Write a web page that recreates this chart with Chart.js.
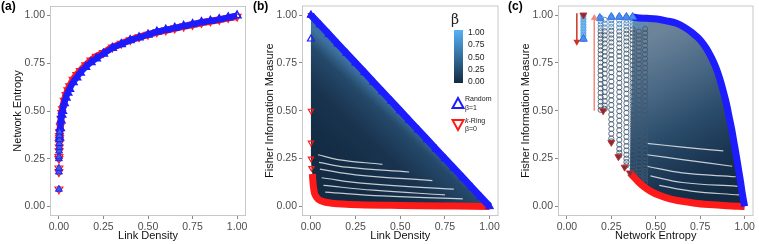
<!DOCTYPE html>
<html>
<head>
<meta charset="utf-8">
<script src="https://cdn.jsdelivr.net/npm/chart.js@4.4.1/dist/chart.umd.min.js"></script>
<style>
  html, body { margin: 0; padding: 0; background: #fff; }
  #wrap { position: relative; width: 759px; height: 244px; overflow: hidden; font-family: 'Liberation Sans', Arial, sans-serif; }
  #wrap canvas { position: absolute; top: 0; }
  .tag { position: absolute; top: -1px; font-weight: bold; font-size: 12px; line-height: 14px; color: #000; }
  .lg { position: absolute; font-size: 8.5px; line-height: 10px; color: #222; white-space: nowrap; }
  .lk { font-size: 7px; line-height: 9px; }
</style>
</head>
<body>
<div id="wrap">
  <canvas id="ca" width="252" height="244" style="left:0px"></canvas>
  <canvas id="cb" width="252" height="244" style="left:252px"></canvas>
  <canvas id="cc" width="251" height="244" style="left:508px"></canvas>
  <div class="tag" style="left:1px">(a)</div>
  <div class="tag" style="left:253px">(b)</div>
  <div class="tag" style="left:508px">(c)</div>

  <!-- legend of panel (b) -->
  <div class="lg" style="left:451px;top:11px;font:14px 'DejaVu Serif',serif;line-height:16px">β</div>
  <div style="position:absolute;left:454px;top:30px;width:9px;height:53px;background:linear-gradient(#56B1F7,#132B43)"></div>
  <div class="lg" style="left:468px;top:27px">1.00</div>
  <div class="lg" style="left:468px;top:39px">0.75</div>
  <div class="lg" style="left:468px;top:51.5px">0.50</div>
  <div class="lg" style="left:468px;top:64px">0.25</div>
  <div class="lg" style="left:468px;top:76px">0.00</div>
  <svg style="position:absolute;left:451px;top:96px" width="14" height="14"><polygon points="7,2 12.5,12 1.5,12" fill="none" stroke="#1c1cff" stroke-width="2"/></svg>
  <div class="lg lk" style="left:465px;top:94px">Random</div>
  <div class="lg lk" style="left:465px;top:102.5px">β=1</div>
  <svg style="position:absolute;left:451px;top:118px" width="14" height="14"><polygon points="1.5,2 12.5,2 7,12" fill="none" stroke="#ff1a1a" stroke-width="2"/></svg>
  <div class="lg lk" style="left:465px;top:115.5px"><i>k</i>-Ring</div>
  <div class="lg lk" style="left:465px;top:124px">β=0</div>
</div>
<script>
// ---------- (a) network entropy vs link density ----------
const densA = [0.004, 0.008, 0.012, 0.016, 0.02, 0.03, 0.04, 0.05, 0.06, 0.08, 0.10, 0.12, 0.15, 0.18, 0.21, 0.25, 0.30, 0.35, 0.40, 0.45, 0.50, 0.55, 0.60, 0.65, 0.70, 0.75, 0.80, 0.85, 0.90, 0.95, 1.00];
const entRandomA = [0.36, 0.41, 0.45, 0.48, 0.50, 0.54, 0.57, 0.595, 0.615, 0.65, 0.675, 0.70, 0.73, 0.755, 0.775, 0.80, 0.83, 0.85, 0.87, 0.885, 0.90, 0.915, 0.925, 0.935, 0.945, 0.955, 0.965, 0.972, 0.98, 0.99, 1.00];
const entRingA = [0.36, 0.42, 0.46, 0.49, 0.51, 0.555, 0.585, 0.61, 0.63, 0.665, 0.69, 0.71, 0.74, 0.765, 0.785, 0.805, 0.833, 0.853, 0.872, 0.887, 0.90, 0.913, 0.923, 0.933, 0.943, 0.952, 0.962, 0.97, 0.978, 0.988, 0.995];
const lowDensA = [0, 0, 0, 0, 0, 0.001, 0.002, 0.002, 0.003, 0.003, 0.004];
const lowEntA = [0.09, 0.18, 0.20, 0.25, 0.26, 0.29, 0.31, 0.33, 0.35, 0.37, 0.39];

// ---------- (b) Fisher information vs link density ----------
const densRandomB = [0, 0.05, 0.10, 0.15, 0.20, 0.25, 0.30, 0.35, 0.40, 0.45, 0.50, 0.55, 0.60, 0.65, 0.70, 0.75, 0.80, 0.85, 0.90, 0.95, 1.00];
const fisherRandomB = [1.00, 0.95, 0.90, 0.85, 0.80, 0.75, 0.70, 0.65, 0.60, 0.55, 0.50, 0.45, 0.40, 0.35, 0.30, 0.25, 0.20, 0.15, 0.10, 0.05, 0.00];
const outlierB = { x: 0.0, y: 0.875 };
const densRingStartB = [0.0, 0.0, 0.0, 0.0, 0.003];
const fisherRingStartB = [1.0, 0.5, 0.333, 0.25, 0.2];
const densRingB = [0.008, 0.012, 0.016, 0.02, 0.03, 0.045, 0.07, 0.10, 0.15, 0.20, 0.30, 0.45, 0.60, 0.80, 1.00];
const fisherRingB = [0.17, 0.12, 0.09, 0.07, 0.05, 0.035, 0.025, 0.019, 0.014, 0.011, 0.008, 0.006, 0.004, 0.002, 0.0];
const streaksB = [
  [[0.04, 0.27], [0.15, 0.245], [0.40, 0.22]],
  [[0.045, 0.23], [0.20, 0.205], [0.55, 0.18]],
  [[0.05, 0.195], [0.25, 0.165], [0.68, 0.135]],
  [[0.06, 0.15], [0.30, 0.12], [0.80, 0.09]],
  [[0.07, 0.11], [0.35, 0.085], [0.75, 0.06]],
  [[0.08, 0.075], [0.40, 0.055], [0.85, 0.04]]
];

// ---------- (c) Fisher information vs network entropy ----------
const entRandomDotsC = [0.093, 0.185, 0.25, 0.295, 0.335, 0.37];
const fisherRandomDotsC = [0.875, 0.985, 0.99, 0.99, 0.99, 0.99];
const entRandomC = [0.37, 0.395, 0.45, 0.506, 0.56, 0.617, 0.66, 0.709, 0.75, 0.783, 0.812, 0.839, 0.86, 0.879, 0.897, 0.913, 0.928, 0.941, 0.954, 0.966, 0.977, 0.986, 0.994, 1.0];
const fisherRandomC = [0.99, 0.986, 0.983, 0.979, 0.97, 0.957, 0.937, 0.905, 0.87, 0.828, 0.78, 0.725, 0.668, 0.605, 0.54, 0.468, 0.40, 0.33, 0.26, 0.192, 0.13, 0.072, 0.03, 0.0];
const entRingDotsC = [0.093, 0.204, 0.25, 0.29, 0.325, 0.355];
const fisherRingDotsC = [1.0, 0.5, 0.335, 0.26, 0.205, 0.175];
const entRingC = [0.355, 0.38, 0.40, 0.43, 0.47, 0.52, 0.58, 0.65, 0.72, 0.80, 0.90, 1.0];
const fisherRingC = [0.175, 0.15, 0.13, 0.105, 0.08, 0.058, 0.04, 0.027, 0.017, 0.01, 0.004, 0.0];
const columnsC = [
  { x: 0.093, y: [0.875, 0.89, 0.905, 0.92, 0.935, 0.95, 0.965, 0.98, 0.995] },
  { x: 0.19, y: [0.985, 0.968, 0.951, 0.933, 0.915, 0.896, 0.877, 0.857, 0.837, 0.816, 0.795, 0.774, 0.752, 0.73, 0.708, 0.686, 0.663, 0.64, 0.617, 0.594, 0.571, 0.548, 0.525, 0.505] },
  { x: 0.213, y: [0.975, 0.955, 0.935, 0.915, 0.894, 0.873, 0.852, 0.83, 0.808, 0.786, 0.763, 0.74, 0.717, 0.694, 0.67, 0.646, 0.622, 0.598, 0.574, 0.55, 0.527, 0.51] },
  { x: 0.25, y: [0.99, 0.973, 0.955, 0.937, 0.918, 0.898, 0.878, 0.857, 0.836, 0.814, 0.792, 0.77, 0.747, 0.724, 0.701, 0.677, 0.653, 0.629, 0.605, 0.58, 0.555, 0.53, 0.505, 0.48, 0.455, 0.43, 0.405, 0.38, 0.355, 0.34] },
  { x: 0.295, y: [0.99, 0.972, 0.953, 0.934, 0.914, 0.894, 0.873, 0.852, 0.83, 0.808, 0.786, 0.763, 0.74, 0.717, 0.694, 0.67, 0.646, 0.622, 0.598, 0.573, 0.548, 0.523, 0.498, 0.473, 0.448, 0.423, 0.398, 0.373, 0.348, 0.323, 0.30, 0.28, 0.265] },
  { x: 0.335, y: [0.99, 0.975, 0.958, 0.94, 0.921, 0.902, 0.882, 0.862, 0.841, 0.82, 0.798, 0.776, 0.754, 0.731, 0.708, 0.685, 0.661, 0.637, 0.613, 0.589, 0.564, 0.539, 0.514, 0.489, 0.464, 0.439, 0.414, 0.389, 0.364, 0.339, 0.315, 0.292, 0.27, 0.25, 0.232, 0.215] },
  { x: 0.37, y: [0.99, 0.976, 0.96, 0.943, 0.925, 0.906, 0.887, 0.867, 0.847, 0.826, 0.805, 0.783, 0.761, 0.739, 0.716, 0.693, 0.67, 0.646, 0.622, 0.598, 0.574, 0.55, 0.525, 0.50, 0.475, 0.45, 0.425, 0.40, 0.375, 0.35, 0.325, 0.30, 0.277, 0.255, 0.235, 0.215, 0.197, 0.18] },
  { x: 0.405, y: [0.985, 0.968, 0.95, 0.932, 0.913, 0.893, 0.873, 0.852, 0.831, 0.81, 0.788, 0.766, 0.744, 0.721, 0.698, 0.675, 0.651, 0.627, 0.603, 0.579, 0.555, 0.53, 0.505, 0.48, 0.455, 0.43, 0.405, 0.38, 0.355, 0.33, 0.306, 0.283, 0.261, 0.24, 0.22, 0.201, 0.183, 0.166, 0.15] },
  { x: 0.44, y: [0.985, 0.966, 0.947, 0.927, 0.906, 0.885, 0.863, 0.841, 0.818, 0.795, 0.772, 0.748, 0.724, 0.70, 0.675, 0.65, 0.625, 0.60, 0.575, 0.55, 0.525, 0.50, 0.475, 0.45, 0.425, 0.40, 0.375, 0.35, 0.326, 0.303, 0.281, 0.26, 0.24, 0.221, 0.203, 0.186, 0.17, 0.155, 0.14, 0.125] }
];
const streaksC = [
  [[0.45, 0.33], [0.65, 0.31], [0.88, 0.29]],
  [[0.45, 0.27], [0.65, 0.245], [0.93, 0.21]],
  [[0.45, 0.21], [0.65, 0.175], [0.95, 0.155]],
  [[0.47, 0.16], [0.65, 0.125], [0.96, 0.105]],
  [[0.52, 0.11], [0.70, 0.08], [0.97, 0.06]]
];
const arrowsC = [
  { x: [0.056, 0.056], y: [1.01, 0.86], color: '#cc3322', head: 180 },
  { x: [0.154, 0.154], y: [0.50, 0.985], color: '#ef8a7c', head: 0 }
];

const TICKS = [0, 0.25, 0.5, 0.75, 1];
const BLUE = '#1c1cff';
const RED = '#ff1a1a';

Chart.defaults.font.family = "'Liberation Sans', Arial, sans-serif";
Chart.defaults.animation = false;

const pts = (xs, ys) => xs.map((x, i) => ({ x, y: ys[i] }));
const pairs = arr => arr.map(p => ({ x: p[0], y: p[1] }));

function makeScale(title, isX) {
  return {
    type: 'linear', min: -0.05, max: 1.05,
    afterBuildTicks: s => { s.ticks = TICKS.map(v => ({ value: v })); },
    afterFit: s => {
      // fixed axis sizes, no extra label padding
      if (isX) { s.height = 28; s.paddingLeft = 0; s.paddingRight = 0; }
      else { s.width = 50; s.paddingTop = 0; s.paddingBottom = 0; }
    },
    grid: { display: true, drawOnChartArea: false, tickLength: 3, color: '#8a8a8a' },
    border: { display: false },
    ticks: { color: '#4d4d4d', font: { size: 10.5 }, padding: 2, autoSkip: false, maxRotation: 0, callback: v => Number(v).toFixed(2) },
    title: { display: true, text: title, color: '#111', font: { size: 11 }, padding: isX ? { top: 0, bottom: 1 } : { top: 11, bottom: 0 } }
  };
}

// grey panel border like ggplot
const boxPlugin = {
  id: 'box',
  beforeDatasetsDraw(chart) {
    const { ctx, chartArea: a } = chart;
    ctx.save();
    ctx.strokeStyle = '#c8c8c8';
    ctx.lineWidth = 1;
    ctx.strokeRect(a.left + 0.5, a.top + 0.5, a.width - 1, a.height - 1);
    ctx.restore();
  }
};

function gradient(stops, from, to) {
  return ctx => {
    const chart = ctx.chart;
    if (!chart.chartArea) return 'rgba(0,0,0,0)';
    const sx = chart.scales.x, sy = chart.scales.y;
    const g = chart.ctx.createLinearGradient(
      sx.getPixelForValue(from[0]), sy.getPixelForValue(from[1]),
      sx.getPixelForValue(to[0]), sy.getPixelForValue(to[1]));
    stops.forEach(s => g.addColorStop(s[0], s[1]));
    return g;
  };
}

function makeChart(id, xTitle, yTitle, datasets) {
  return new Chart(document.getElementById(id), {
    type: 'scatter',
    data: { datasets },
    options: {
      responsive: false,
      layout: { padding: { top: 3, right: 1, left: 0, bottom: 0 } },
      scales: { x: makeScale(xTitle, true), y: makeScale(yTitle, false) },
      plugins: { legend: { display: false }, tooltip: { enabled: false } },
      elements: { line: { tension: 0 } }
    },
    plugins: [boxPlugin]
  });
}

// ----- panel (a)
makeChart('ca', 'Link Density', 'Network Entropy', [
  { data: pts(lowDensA, lowEntA), pointStyle: 'triangle', pointRadius: 4, pointBorderColor: BLUE, pointBackgroundColor: '#3d5fd8', pointBorderWidth: 1, order: 0 },
  { data: pts(densA, entRandomA), showLine: true, cubicInterpolationMode: 'monotone', borderColor: BLUE, borderWidth: 6,
    pointStyle: 'triangle', pointRadius: 4.5, pointBorderColor: BLUE, pointBackgroundColor: 'rgba(0,0,0,0)', pointBorderWidth: 1.5, order: 1 },
  { data: pts(lowDensA, lowEntA), pointStyle: 'triangle', rotation: 180, pointRadius: 4.5, pointBorderColor: RED, pointBackgroundColor: 'rgba(0,0,0,0)', pointBorderWidth: 1.2, order: 2 },
  { data: pts(densA, entRingA), showLine: true, cubicInterpolationMode: 'monotone', borderColor: RED, borderWidth: 7,
    pointStyle: 'triangle', rotation: 180, pointRadius: 4.5, pointBorderColor: RED, pointBackgroundColor: 'rgba(0,0,0,0)', pointBorderWidth: 1.2, order: 3 }
]);

// ----- panel (b)
const polyB = [
  ...pts(densRandomB, fisherRandomB),
  ...pts(densRingB, fisherRingB).reverse(),
  ...pts(densRingStartB, fisherRingStartB).reverse()
];
makeChart('cb', 'Link Density', 'Fisher Information Measure', [
  { data: [outlierB], pointStyle: 'triangle', pointRadius: 4, pointBorderColor: BLUE, pointBackgroundColor: 'rgba(0,0,0,0)', pointBorderWidth: 1.2, order: 0 },
  { data: pts(densRandomB, fisherRandomB), showLine: true, borderColor: BLUE, borderWidth: 7,
    pointStyle: 'triangle', pointRadius: 4.5, pointBorderColor: BLUE, pointBackgroundColor: BLUE, pointBorderWidth: 1, order: 1 },
  { data: pts(densRingStartB, fisherRingStartB), pointStyle: 'triangle', rotation: 180, pointRadius: 3, pointBorderColor: RED, pointBackgroundColor: 'rgba(0,0,0,0)', pointBorderWidth: 1.2, order: 2 },
  { data: pts(densRingB, fisherRingB), showLine: true, cubicInterpolationMode: 'monotone', borderColor: RED, borderWidth: 7, pointRadius: 0, order: 3 },
  ...streaksB.map(s => ({ data: pairs(s), showLine: true, tension: 0.4, borderColor: 'rgba(255,255,255,0.75)', borderWidth: 1.2, pointRadius: 0, order: 5 })),
  { data: polyB, showLine: true, borderWidth: 0, pointRadius: 0, fill: 'shape', order: 9,
    backgroundColor: gradient([[0, '#132b43'], [0.5, '#19334f'], [0.84, '#25496a'], [1, '#3d72a0']], [0.18, 0.18], [0.5, 0.5]) }
]);

// ----- panel (c)
const polyC = [
  ...pts(entRandomC, fisherRandomC),
  ...pts(entRingC, fisherRingC).reverse()
];
makeChart('cc', 'Network Entropy', 'Fisher Information Measure', [
  ...arrowsC.map(a => ({ data: pts(a.x, a.y), showLine: true, borderColor: a.color, borderWidth: 1.5,
    pointStyle: 'triangle', rotation: a.head, pointRadius: [0, 2.5], pointBorderColor: a.color, pointBackgroundColor: a.color, order: 0 })),
  { data: pts(entRandomDotsC, fisherRandomDotsC), pointStyle: 'triangle', pointRadius: 4.5, pointBorderColor: '#2f6fe8', pointBackgroundColor: '#4f8df0', pointBorderWidth: 1, order: 1 },
  { data: pts(entRandomC, fisherRandomC), showLine: true, cubicInterpolationMode: 'monotone', borderColor: BLUE, borderWidth: 7, pointRadius: 0, order: 2 },
  { data: pts(entRingDotsC, fisherRingDotsC), pointStyle: 'triangle', rotation: 180, pointRadius: 4, pointBorderColor: '#c23030', pointBackgroundColor: '#7a2f3a', pointBorderWidth: 1, order: 3 },
  { data: pts(entRingC, fisherRingC), showLine: true, cubicInterpolationMode: 'monotone', borderColor: RED, borderWidth: 7, pointRadius: 0, order: 4 },
  ...columnsC.map((c, i) => ({
    data: c.y.map(y => ({ x: c.x, y })), pointStyle: 'circle', pointRadius: 2.6, pointBorderWidth: 1,
    pointBorderColor: i === 0 ? '#5aa3e0' : ctx => (ctx.raw && ctx.raw.y > 0.93 ? '#5b8fc0' : 'rgba(62,88,112,0.85)'),
    pointBackgroundColor: i === 0 ? '#74b6ee' : 'rgba(255,255,255,0)', order: 5
  })),
  ...streaksC.map(s => ({ data: pairs(s), showLine: true, tension: 0.4, borderColor: 'rgba(255,255,255,0.75)', borderWidth: 1.2, pointRadius: 0, order: 6 })),
  { data: polyC, showLine: true, borderWidth: 0, pointRadius: 0, fill: 'shape', order: 9,
    backgroundColor: gradient([[0, '#6c8499'], [0.3, '#486784'], [0.55, '#2a4b6a'], [0.8, '#193450'], [1, '#132b43']], [0.40, 0.85], [0.85, 0.05]) }
]);
</script>
</body>
</html>
